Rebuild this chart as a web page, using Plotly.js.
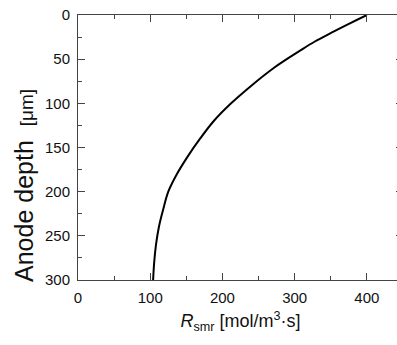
<!DOCTYPE html>
<html>
<head>
<meta charset="utf-8">
<script src="https://cdn.plot.ly/plotly-3.0.1.min.js"></script>
<style>
html,body{margin:0;padding:0;overflow:hidden;background:#fff;}
#chart{width:406px;height:345px;}
</style>
</head>
<body>
<div id="chart"></div>
<script>
const depth = [0, 10, 20, 30, 40, 50, 60, 80, 100, 120, 140, 160, 180, 200, 220, 240, 260, 280, 300];
const rsmr  = [400, 375, 351, 328, 308, 289, 271, 240, 212, 188, 169, 152, 137, 125, 118, 112, 108, 105.5, 104];
const xTicks = [0, 100, 200, 300, 400];
const yTicks = [0, 50, 100, 150, 200, 250, 300];

const FONT = 'Liberation Sans, Arial, sans-serif';

const trace = {
  x: rsmr, y: depth, type: 'scatter', mode: 'lines',
  line: {color: '#000', width: 2, shape: 'spline', smoothing: 1},
  hoverinfo: 'skip'
};

const axisCommon = {
  showline: true, linecolor: '#444', linewidth: 1,
  mirror: 'ticks', ticks: 'inside', ticklen: 7, tickwidth: 1, tickcolor: '#444',
  showgrid: false, zeroline: false,
  tickfont: {family: FONT, size: 15, color: '#111'}
};

const layout = {
  width: 406, height: 345,
  margin: {l: 78, r: 3, t: 15, b: 65},
  paper_bgcolor: '#fff', plot_bgcolor: '#fff',
  showlegend: false,
  xaxis: Object.assign({}, axisCommon, {
    range: [0, 450], tickvals: xTicks, ticktext: xTicks.map(String),
    minor: {ticks: 'inside', ticklen: 4, dtick: 50, tick0: 0, tickcolor: '#444', showgrid: false},
    ticklabelstandoff: 4,
    title: {text: '<i>R</i><sub>smr</sub> [mol/m<sup>3</sup>·s]',
            font: {family: FONT, size: 18, color: '#111'}, standoff: 9}
  }),
  yaxis: Object.assign({}, axisCommon, {
    range: [300, 0], tickvals: yTicks, ticktext: yTicks.map(String),
    minor: {ticks: 'inside', ticklen: 4, dtick: 25, tick0: 0, tickcolor: '#444', showgrid: false},
    ticklabelstandoff: 4
  }),
  annotations: [{
    text: 'Anode depth  <span style="font-size:19px">[μm]</span>',
    textangle: -90, showarrow: false,
    xref: 'paper', yref: 'paper',
    x: (24 - 78) / 325, y: 1 - (186 - 15) / 265,
    xanchor: 'center', yanchor: 'middle',
    font: {family: FONT, size: 25, color: '#111'}
  }]
};

Plotly.newPlot('chart', [trace], layout, {staticPlot: true, displayModeBar: false});
</script>
</body>
</html>
